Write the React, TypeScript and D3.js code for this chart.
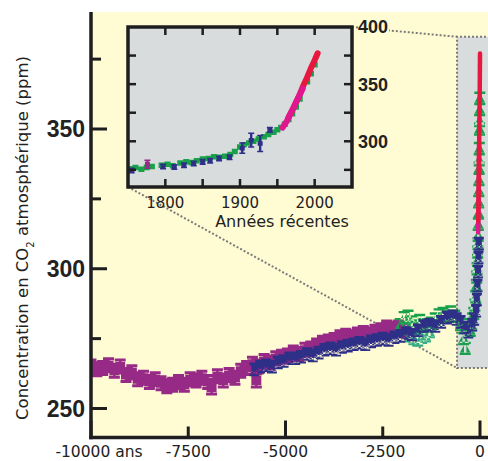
import React from 'react';
import * as d3 from 'd3';

type P = [number, number];

// ---- Main chart (years before present, ppm) ----
const purpleMain: P[] = [
  [-10000, 265], [-9850, 264], [-9700, 264.5], [-9550, 265.5], [-9400, 263.5], [-9250, 265],
  [-9100, 262], [-8950, 263], [-8800, 260.5], [-8650, 261], [-8500, 259.5], [-8350, 260.5],
  [-8200, 259], [-8050, 258], [-7900, 258.5], [-7750, 259.5], [-7600, 258.5], [-7450, 260.5],
  [-7300, 260], [-7150, 261], [-7000, 259.5], [-6900, 257.5], [-6750, 261.5], [-6600, 260],
  [-6450, 262], [-6300, 261], [-6150, 263.5], [-6000, 264.5], [-5850, 266], [-5750, 260],
  [-5700, 265], [-5550, 267], [-5400, 266.5], [-5250, 268], [-5100, 268.5], [-4950, 269],
  [-4800, 270], [-4650, 269.5], [-4500, 271], [-4350, 271.5], [-4200, 272.5], [-4050, 273.5],
  [-3900, 274], [-3750, 274.5], [-3600, 275.5], [-3450, 276], [-3300, 275.5], [-3150, 276.5],
  [-3000, 277], [-2850, 276.5], [-2700, 277.5], [-2550, 278], [-2400, 279], [-2250, 278.5],
  [-2100, 279], [-1950, 278],
];

const blueMain: P[] = [
  [-5800, 264], [-5650, 265], [-5500, 265.5], [-5350, 265], [-5200, 266.5], [-5050, 267],
  [-4900, 268], [-4750, 268], [-4600, 268.5], [-4450, 269.5], [-4300, 269], [-4150, 270],
  [-4000, 271], [-3850, 271.5], [-3700, 271], [-3550, 272], [-3400, 272.5], [-3250, 273],
  [-3100, 273.5], [-2950, 273], [-2800, 274], [-2650, 274.5], [-2500, 275], [-2350, 274.5],
  [-2200, 275.5], [-2050, 276], [-1900, 277], [-1750, 276.5], [-1600, 278], [-1450, 279.5],
  [-1300, 280], [-1150, 279.5], [-1000, 281], [-850, 282.5], [-700, 283], [-600, 282],
  [-500, 281], [-400, 279], [-300, 277.5], [-200, 280], [-150, 282], [-100, 285],
  [-80, 289], [-65, 294], [-50, 299], [-40, 304], [-30, 309],
];

const greenMain: P[] = [
  [-2050, 280], [-1950, 282.5], [-1850, 283], [-1750, 281], [-1650, 279.5], [-1550, 281.5],
  [-1450, 280], [-1350, 279.5], [-1250, 280.5], [-1150, 282], [-1050, 283.5], [-950, 284],
  [-850, 283], [-750, 284.5], [-650, 283], [-500, 280], [-420, 275], [-380, 271.5],
  [-250, 278], [-220, 280], [-190, 282], [-160, 284], [-130, 287], [-110, 290], [-95, 294],
  [-85, 297], [-75, 300], [-65, 303], [-58, 306], [-52, 309], [-47, 312], [-42, 316],
  [-37, 320], [-33, 324], [-29, 328], [-26, 332], [-23, 336], [-20, 339], [-17, 343],
  [-13, 350], [-10, 353], [-7, 357], [-5, 361],
];

const tealMain: P[] = [
  [-1900, 278.5], [-1800, 276], [-1700, 275], [-1600, 274.5], [-1500, 275.5], [-1400, 276], [-1300, 277.5],
];

const redMain: P[] = [[-45, 317], [-35, 327], [-25, 340], [-15, 353], [-5, 367], [0, 377]];
const pinkMain: P[] = [[-47, 313], [-40, 320], [-33, 328], [-27, 336], [-22, 345]];

// zoomed window drawn on the main chart (years, ppm)
const zoomWindow = { year0: -590, ppmLow: 264.5, ppmHigh: 383 };

// ---- Inset (calendar years, ppm) ----
const greenInset: P[] = [
  [1752, 276], [1760, 277], [1768, 275.5], [1775, 277], [1782, 278], [1795, 279], [1803, 280],
  [1810, 278.5], [1820, 281], [1828, 282], [1835, 281.5], [1842, 283], [1850, 284.5], [1858, 285],
  [1865, 286.5], [1872, 286], [1880, 287], [1887, 288.5], [1893, 291], [1900, 295], [1905, 297],
  [1912, 298.5], [1918, 300], [1925, 302], [1932, 304], [1938, 306], [1945, 308], [1950, 310],
  [1955, 312], [1960, 315], [1965, 319], [1970, 324], [1975, 330], [1980, 337], [1990, 352],
  [1995, 359], [2000, 367],
];
const blueInset: P[] = [
  [1755, 274.5], [1797, 278], [1812, 277.5], [1825, 279], [1838, 280.5], [1850, 282],
  [1860, 283], [1872, 285], [1886, 286], [1903, 294], [1915, 301], [1927, 298], [1940, 310],
];
const blueInsetErr = [2, 2, 2, 2, 2, 2, 2, 2, 2, 4.5, 6, 7, 2];
const purpleInset: P[] = [[1776, 280]];
const redInset: P[] = [
  [1965, 321], [1970, 327], [1975, 334], [1980, 341], [1985, 349], [1990, 356], [1995, 364], [2000, 371], [2004, 377],
];
const pinkInset: P[] = [
  [1957, 312], [1960, 315], [1963, 318], [1966, 322], [1969, 326], [1972, 330], [1975, 334], [1978, 338], [1981, 342], [1984, 346],
];

// ---- Ticks ----
const mainYTicks = [250, 275, 300, 325, 350, 375];
const mainYLabels = [250, 300, 350];
const mainXTicks = [-10000, -7500, -5000, -2500, 0];
const mainXMajor = [-10000, -5000, 0];
const mainXLabels = ['-10000 ans', '-7500', '-5000', '-2500', '0'];
const insetXTicks = [1800, 1850, 1900, 1950, 2000];
const insetXLabels = [1800, 1900, 2000];
const insetYTicks = [275, 300, 325, 350, 375];
const insetYLabels = [300, 350, 400];

const C = {
  yellow: '#fffcd4',
  gray: '#d9dcdd',
  axis: '#1e1e1e',
  purple: '#962a86',
  blue: '#2e2f87',
  green: '#18a04a',
  teal: '#34ad85',
  red: '#e8173f',
  pink: '#e0178e',
  dots: '#7a7a7a',
};

const bars = (cx: number, cy: number, half: number, arm: number, t: number) =>
  `M${cx - half},${cy - arm - t / 2}h${2 * half}v${t}h${-2 * half}Z` +
  `M${cx - half},${cy + arm - t / 2}h${2 * half}v${t}h${-2 * half}Z` +
  `M${cx - 1.2},${cy - arm}h2.4v${2 * arm}h-2.4Z`;
const rectC = (cx: number, cy: number, w: number, h: number) =>
  `M${cx - w / 2},${cy - h / 2}h${w}v${h}h${-w}Z`;
const triUp = (cx: number, cy: number, s: number) =>
  `M${cx - s / 2},${cy + s * 0.42}L${cx + s / 2},${cy + s * 0.42}L${cx},${cy - s * 0.5}Z`;
const hourglass = (cx: number, cy: number, s: number) =>
  `M${cx - s / 2},${cy - s / 2}L${cx + s / 2},${cy - s / 2}L${cx},${cy}Z` +
  `M${cx - s / 2},${cy + s / 2}L${cx + s / 2},${cy + s / 2}L${cx},${cy}Z`;

export default function App() {
  const x = d3.scaleLinear().domain([-10000, 0]).range([91, 480]);
  const y = d3.scaleLinear().domain([250, 350]).range([408.5, 129]);
  const ix = d3.scaleLinear().domain([1750, 2050]).range([128, 352]);
  const iy = d3.scaleLinear().domain([260, 400]).range([187, 27]);

  const plotL = 91, plotR = 488, plotT = 12, plotB = 437.5;
  const [iL, iR] = ix.range();
  const [iB, iT] = iy.range();

  const lineMain = d3.line<P>().x(d => x(d[0])).y(d => y(d[1]));
  const lineInset = d3.line<P>().x(d => ix(d[0])).y(d => iy(d[1])).curve(d3.curveMonotoneX);

  const zx = x(zoomWindow.year0);
  const zyT = y(zoomWindow.ppmHigh);
  const zyB = y(zoomWindow.ppmLow);

  const purplePath = purpleMain.map(d => rectC(x(d[0]), y(d[1]), 10, 9) + bars(x(d[0]), y(d[1]), 5.5, 6.5, 3)).join('');
  const bluePath = blueMain.map(d => hourglass(x(d[0]), y(d[1]), 10) + rectC(x(d[0]), y(d[1]), 6, 5) +
    bars(x(d[0]), y(d[1]), 5, 5.5, 2.6)).join('');
  const greenPath = greenMain.map(d => triUp(x(d[0]), y(d[1]), 11) + bars(x(d[0]), y(d[1]), 5.5, 5.5, 2.4)).join('');
  const tealPath = tealMain.map(d => triUp(x(d[0]), y(d[1]), 11) + bars(x(d[0]), y(d[1]), 5.5, 5.5, 2.4)).join('');

  const dejavu = '"DejaVu Sans", Verdana, sans-serif';
  const arialB = '"Liberation Sans", Arial, sans-serif';

  return (
    <svg width={488} height={461} viewBox="0 0 488 461"
      style={{ position: 'absolute', left: 0, top: 0, background: '#ffffff' }}>
      <defs>
        <clipPath id="plotClip">
          <rect x={plotL} y={plotT} width={plotR - plotL} height={plotB - plotT} />
        </clipPath>
        <clipPath id="insetClip">
          <rect x={iL} y={iT} width={iR - iL} height={iB - iT} />
        </clipPath>
      </defs>

      {/* main background */}
      <rect x={plotL} y={plotT} width={plotR - plotL} height={plotB - plotT} fill={C.yellow} />

      {/* zoom window on main chart */}
      <rect x={zx} y={zyT} width={plotR - zx + 2} height={zyB - zyT} fill={C.gray} />
      <path d={`M${plotR + 2},${zyT}H${zx}V${zyB}H${plotR + 2}`} fill="none" stroke={C.dots}
        strokeWidth={2} strokeDasharray="2,2" />
      {/* connector lines */}
      <line x1={iL} y1={iB} x2={zx} y2={zyB} stroke={C.dots} strokeWidth={2} strokeDasharray="2,2" />
      <line x1={iR} y1={iT} x2={zx} y2={zyT} stroke={C.dots} strokeWidth={2} strokeDasharray="2,2" />

      {/* main data */}
      <g clipPath="url(#plotClip)">
        <path d={purplePath} fill={C.purple} />
        <path d={tealPath} fill={C.teal} />
        <path d={greenPath} fill={C.green} />
        <path d={bluePath} fill={C.blue} />
        <path d={lineMain(pinkMain) || ''} fill="none" stroke={C.pink} strokeWidth={4.5} strokeLinecap="round" />
        <path d={lineMain(redMain) || ''} fill="none" stroke={C.red} strokeWidth={4.5} strokeLinecap="round" />
      </g>

      {/* main axes */}
      {mainYTicks.map(t => (
        <line key={'yt' + t} x1={plotL} x2={plotL + (mainYLabels.includes(t) ? 16 : 10)} y1={y(t)} y2={y(t)}
          stroke={C.axis} strokeWidth={3} />
      ))}
      {mainXTicks.map(t => (
        <line key={'xt' + t} x1={x(t)} x2={x(t)} y1={plotB} y2={plotB - (mainXMajor.includes(t) ? 17 : 11)}
          stroke={C.axis} strokeWidth={3} />
      ))}
      <line x1={plotL} x2={plotL} y1={plotT} y2={plotB + 1.75} stroke={C.axis} strokeWidth={3.5} />
      <line x1={plotL - 1.75} x2={plotR} y1={plotB} y2={plotB} stroke={C.axis} strokeWidth={3.5} />

      {mainYLabels.map(t => (
        <text key={'yl' + t} x={85} y={y(t) + 8.2} textAnchor="end" fontFamily={arialB} fontWeight="bold"
          fontSize={23} fill="#222">{t}</text>
      ))}
      {mainXTicks.map((t, i) => (
        <text key={'xl' + t} x={x(t) + (i === 0 ? 8 : 0)} y={456.5} textAnchor="middle" fontFamily={dejavu}
          fontSize={15.5} fill="#222">{mainXLabels[i]}</text>
      ))}

      <text transform="translate(28,238) rotate(-90)" textAnchor="middle" fontFamily={dejavu}
        fontSize={16.5} fill="#222">
        Concentration en CO<tspan fontSize={10} dy={6}>2</tspan><tspan dy={-6}> atmosphérique (ppm)</tspan>
      </text>

      {/* inset */}
      <rect x={iL} y={iT} width={iR - iL} height={iB - iT} fill={C.gray} />
      <g clipPath="url(#insetClip)">
        <path d={greenInset.map(d => rectC(ix(d[0]), iy(d[1]), 6, 5.5)).join('')} fill={C.green} />
        <path d={blueInset.map((d, i) => rectC(ix(d[0]), iy(d[1]), 5, 4.5) +
          bars(ix(d[0]), iy(d[1]), 3, Math.abs(iy(d[1] + blueInsetErr[i]) - iy(d[1])), 1.5)).join('')} fill={C.blue} />
        <path d={purpleInset.map(d => rectC(ix(d[0]), iy(d[1]), 5, 5) + bars(ix(d[0]), iy(d[1]), 3, 4, 1.5)).join('')}
          fill={C.purple} />
        <path d={lineInset(redInset) || ''} fill="none" stroke={C.red} strokeWidth={6} strokeLinecap="round" />
        <path d={lineInset(pinkInset) || ''} fill="none" stroke={C.pink} strokeWidth={6} strokeLinecap="round" />
      </g>
      {insetXTicks.map(t => (
        <g key={'ixt' + t}>
          <line x1={ix(t)} x2={ix(t)} y1={iT} y2={iT + 8} stroke={C.axis} strokeWidth={2.5} />
          <line x1={ix(t)} x2={ix(t)} y1={iB} y2={iB - 8} stroke={C.axis} strokeWidth={2.5} />
        </g>
      ))}
      {insetYTicks.map(t => (
        <g key={'iyt' + t}>
          <line x1={iL} x2={iL + 8} y1={iy(t)} y2={iy(t)} stroke={C.axis} strokeWidth={2.5} />
          <line x1={iR} x2={iR - 8} y1={iy(t)} y2={iy(t)} stroke={C.axis} strokeWidth={2.5} />
        </g>
      ))}
      <rect x={iL} y={iT} width={iR - iL} height={iB - iT} fill="none" stroke={C.axis} strokeWidth={3.5} />

      {insetYLabels.map(t => (
        <g key={'iyl' + t}>
          <rect x={iR + 6} y={iy(t) - 7} width={31} height={14} fill={C.yellow} />
          <text x={iR + 6} y={iy(t) + 6.4} textAnchor="start" fontFamily={arialB} fontWeight="bold"
            fontSize={18} fill="#222">{t}</text>
        </g>
      ))}
      {insetXLabels.map(t => (
        <text key={'ixl' + t} x={ix(t)} y={208} textAnchor="middle" fontFamily={dejavu} fontSize={15}
          fill="#222">{t}</text>
      ))}
      <text x={282} y={227} textAnchor="middle" fontFamily={dejavu} fontSize={16} fill="#222">Années récentes</text>
    </svg>
  );
}
